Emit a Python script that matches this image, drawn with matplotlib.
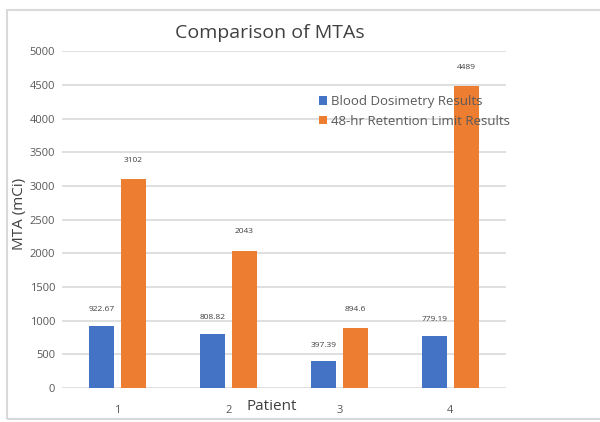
import numpy as np
import matplotlib
matplotlib.use('Agg')
import matplotlib.pyplot as plt
from matplotlib.patches import Rectangle

patients = ['1', '2', '3', '4']
blood = [922.67, 808.82, 397.39, 779.19]
retention = [3102, 2043, 894.6, 4489]
blood_labels = ['922.67', '808.82', '397.39', '779.19']
retention_labels = ['3102', '2043', '894.6', '4489']

plt.rcParams['font.family'] = ['Open Sans', 'DejaVu Sans']

fig = plt.figure(figsize=(6, 4.22), dpi=100)
# outer chart border
fig.patches.append(Rectangle((7/600, 1-419/422), 600/600, 409/422, transform=fig.transFigure,
                             fill=False, edgecolor='#d9d9d9', linewidth=1.5))

ax = fig.add_axes([62/600, 1-388/422, 444/600, (388-51.5)/422])
x = np.arange(len(patients))
w = 0.225
off = 0.14
ax.bar(x-off, blood, w, color='#4472c4', label='Blood Dosimetry Results', zorder=3)
ax.bar(x+off, retention, w, color='#ed7d31', label='48-hr Retention Limit Results', zorder=3)

for xi, v, t in zip(x-off, blood, blood_labels):
    ax.annotate(t, (xi, v), xytext=(0, 9), textcoords='offset points', ha='center', va='bottom',
                fontsize=6, color='#404040')
for xi, v, t in zip(x+off, retention, retention_labels):
    ax.annotate(t, (xi, v), xytext=(0, 11), textcoords='offset points', ha='center', va='bottom',
                fontsize=6, color='#404040')

ax.set_xlim(-0.5, 3.5)
ax.set_ylim(0, 5000)
ax.set_yticks(np.arange(0, 5001, 500))
ax.set_xticks(x)
ax.set_xticklabels(patients)
ax.grid(axis='y', color='#d9d9d9', linewidth=1.2, zorder=0)
for s in ax.spines.values():
    s.set_visible(False)
ax.tick_params(length=0, labelsize=8, colors='#595959')
ax.tick_params(axis='x', pad=12)
ax.tick_params(axis='y', pad=5)

fig.text(270/600, 1-33/422, 'Comparison of MTAs', ha='center', va='center', fontsize=14, color='#404040')
fig.text(19/600, 1-214/422, 'MTA (mCi)', ha='center', va='center', rotation=90, fontsize=11, color='#404040')
fig.text(272/600, 1-407/422, 'Patient', ha='center', va='center', fontsize=11, color='#404040')

ax.legend(loc='upper left', bbox_to_anchor=(252/444, 1-(90-51.5)/336.5), frameon=False,
          fontsize=9.5, handlelength=0.6, handleheight=0.6, handletextpad=0.3, labelspacing=0.5,
          labelcolor='#595959', borderaxespad=0)

fig.savefig('out.png', dpi=100)
